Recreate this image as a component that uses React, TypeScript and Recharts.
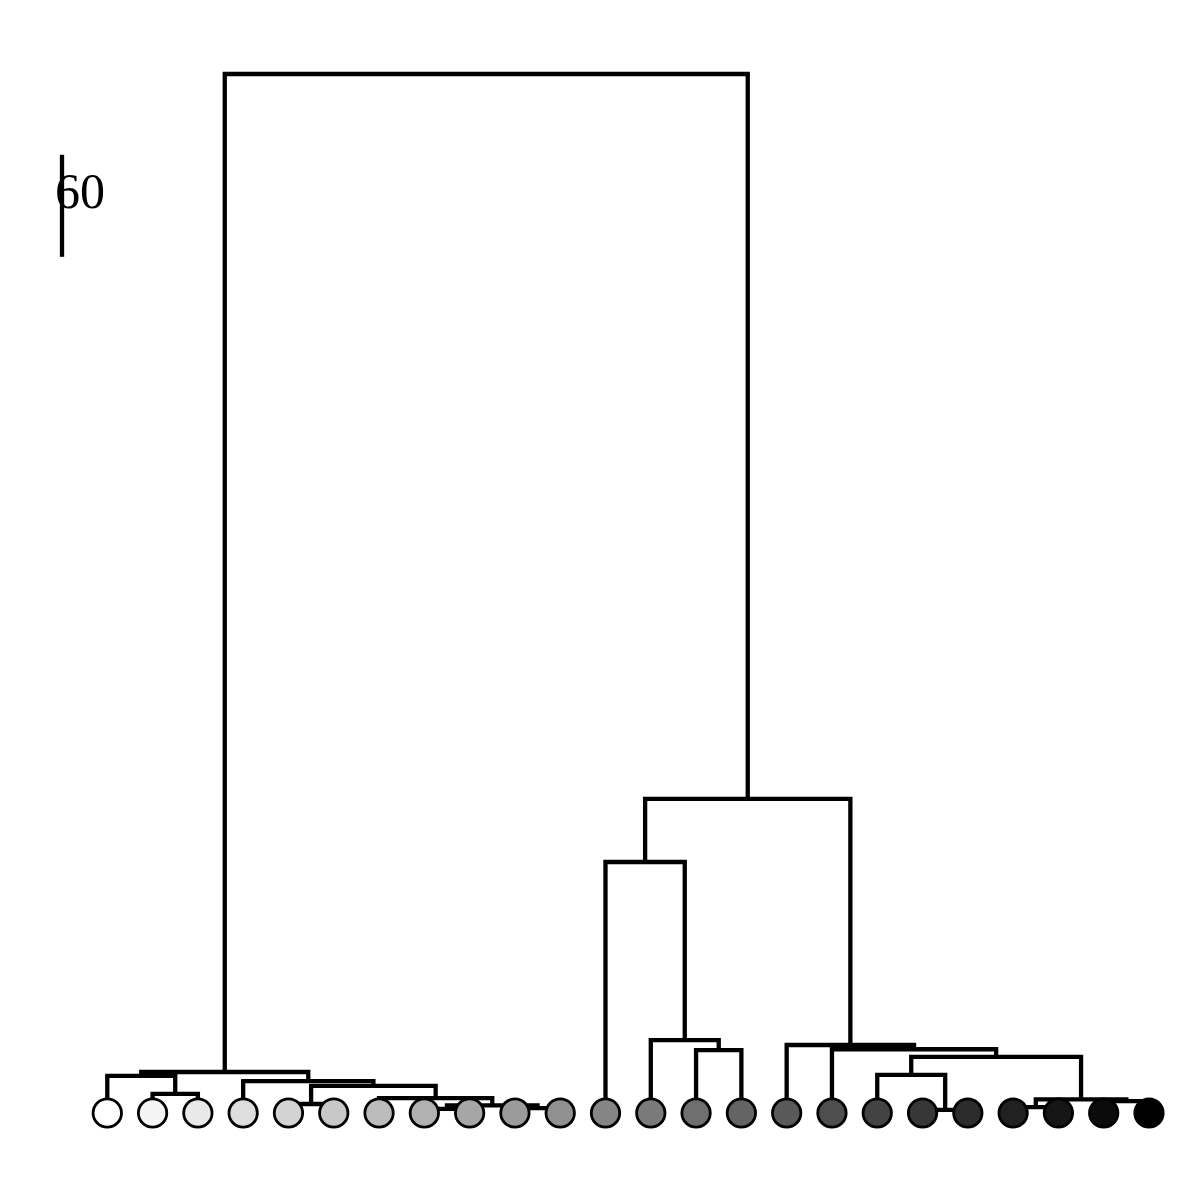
import React from 'react';
import { ComposedChart, Line, Scatter, XAxis, YAxis, Cell } from 'recharts';

// leaf order along the x axis
const leafIds = [0, 1, 2, 3, 4, 5, 6, 7, 8, 9, 10, 11, 12, 13, 14, 15, 16, 17, 18, 19, 20, 21, 22, 23];

const leafShades = [
  '#ffffff', '#f4f4f4', '#e9e9e9', '#dedede', '#d3d3d3', '#c8c8c8',
  '#bcbcbc', '#b1b1b1', '#a6a6a6', '#9b9b9b', '#909090', '#858585',
  '#7a7a7a', '#6f6f6f', '#646464', '#595959', '#4e4e4e', '#434343',
  '#373737', '#2c2c2c', '#212121', '#161616', '#0b0b0b', '#000000'
];

// hclust style: negative = leaf (1-based), positive = earlier merge row (1-based)
const merges: [number, number][] = [
  [-8, -9],
  [-10, -11],
  [-19, -20],
  [-21, -22],
  [-23, -24],
  [-5, -6],
  [1, 2],
  [-7, 7],
  [6, 8],
  [-4, 9],
  [-2, -3],
  [-1, 11],
  [12, 10],
  [-14, -15],
  [-13, 14],
  [-12, 15],
  [-18, 3],
  [4, 5],
  [17, 18],
  [-17, 19],
  [-16, 20],
  [16, 21],
  [13, 22]
];

const mergeHeights = [
  2.4, 2.9, 1.8, 3.5, 7.0, 5.3, 4.5, 8.8, 15.9, 18.8, 11.2, 21.8,
  24.1, 37.0, 42.9, 147.6, 22.4, 8.0, 33.0, 37.5, 40.0, 184.7, 611
];

const scaleBarX = -1;
const scaleBarBottom = 503.5;
const scaleBarLength = 60;

type Pt = { x: number; y: number };

function buildLinks() {
  const nodes: Pt[] = [];
  const links: Pt[][] = [];
  const at = (id: number): Pt => (id < 0 ? { x: leafIds[-id - 1], y: 0 } : nodes[id - 1]);
  merges.forEach(([a, b], i) => {
    const pa = at(a);
    const pb = at(b);
    const h = mergeHeights[i];
    nodes.push({ x: (pa.x + pb.x) / 2, y: h });
    links.push([pa, { x: pa.x, y: h }, { x: pb.x, y: h }, pb]);
  });
  return links;
}

const links = buildLinks();
const leaves = leafIds.map((id) => ({ x: id, y: 0 }));
const scaleBar = [
  { x: scaleBarX, y: scaleBarBottom },
  { x: scaleBarX, y: scaleBarBottom + scaleBarLength }
];
const scaleLabel = [{ x: scaleBarX, y: scaleBarBottom + scaleBarLength / 2 }];

export default function App() {
  return (
    <div style={{ position: 'absolute', left: 0, top: 0, width: 1200, height: 1200, background: '#fff' }}>
      <ComposedChart
        width={1200}
        height={1200}
        margin={{ top: 74, right: 51, bottom: 87, left: 62 }}
      >
        <XAxis type="number" dataKey="x" domain={[-1, 23]} hide />
        <YAxis type="number" dataKey="y" domain={[0, 611]} hide />
        {links.map((pts, i) => (
          <Line
            key={'link' + i}
            data={pts}
            dataKey="y"
            type="linear"
            stroke="#000"
            strokeWidth={4.3}
            dot={false}
            activeDot={false}
            isAnimationActive={false}
          />
        ))}
        <Line
          data={scaleBar}
          dataKey="y"
          type="linear"
          stroke="#000"
          strokeWidth={4.3}
          dot={false}
          activeDot={false}
          isAnimationActive={false}
        />
        <Scatter
          data={scaleLabel}
          dataKey="y"
          isAnimationActive={false}
          shape={(p: any) => (
            <text
              x={p.cx - 7}
              y={p.cy + 2}
              fontFamily="'Liberation Serif', serif"
              fontSize={50}
              fill="#000"
            >
              {scaleBarLength}
            </text>
          )}
        />
        <Scatter
          data={leaves}
          dataKey="y"
          isAnimationActive={false}
          shape={(p: any) => (
            <circle cx={p.cx} cy={p.cy} r={14.2} fill={p.fill} stroke="#000" strokeWidth={2.8} />
          )}
        >
          {leaves.map((_, i) => (
            <Cell key={'leaf' + i} fill={leafShades[i]} />
          ))}
        </Scatter>
      </ComposedChart>
    </div>
  );
}
